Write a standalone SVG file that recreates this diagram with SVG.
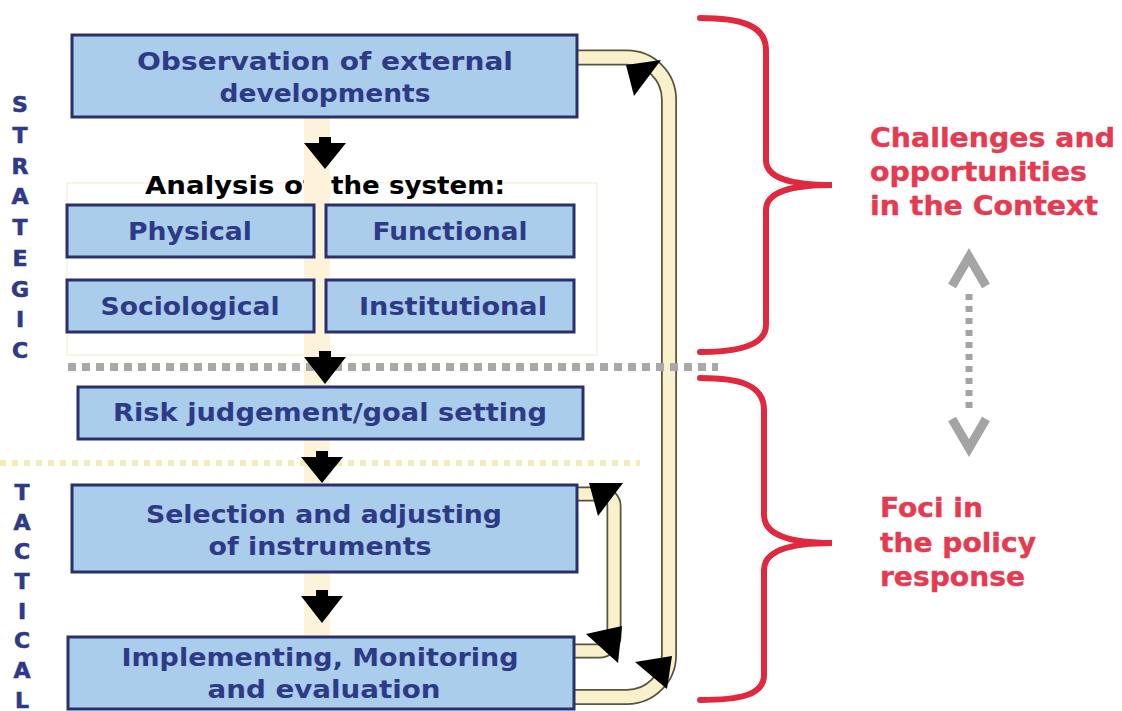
<svg xmlns="http://www.w3.org/2000/svg" width="1122" height="711" viewBox="0 0 1122 711">
<defs>
<style>
.box{fill:#a9cdea;stroke:#2b2f6e;stroke-width:3}
.bt{font-family:"DejaVu Sans",Verdana,sans-serif;font-weight:bold;font-size:24px;fill:#2e3a87;text-anchor:middle}
.side{font-family:"DejaVu Sans",Verdana,sans-serif;font-weight:bold;font-size:22px;fill:#2e3a87;stroke:#2e3a87;stroke-width:0.6;text-anchor:middle}
.red{font-family:"DejaVu Sans",Verdana,sans-serif;font-weight:bold;font-size:27px;fill:#e63a50;stroke:#e63a50;stroke-width:0.4}
.an{font-family:"DejaVu Sans",Verdana,sans-serif;font-weight:bold;font-size:24px;fill:#000}
.brace{fill:none;stroke:#e0283e;stroke-width:6;stroke-linecap:round}
.lo{fill:none;stroke:#55553f}
.li{fill:none;stroke:#fbf0cc}
.ah{fill:#000}
</style>
</defs>
<rect width="1122" height="711" fill="#fff"/>
<g id="background">
<rect x="67" y="183" width="530" height="172" fill="none" stroke="#f6f1e2" stroke-width="1.5"/>
<text class="an" x="145" y="194" textLength="170" lengthAdjust="spacingAndGlyphs">Analysis of</text>
<text class="an" x="331" y="194" textLength="174" lengthAdjust="spacingAndGlyphs">the system:</text>
<rect x="304" y="117" width="26" height="520" fill="#fcf3da"/>
</g>
<g id="side-labels">
<text class="side" x="20" y="112">S</text>
<text class="side" x="20" y="143">T</text>
<text class="side" x="20" y="174">R</text>
<text class="side" x="20" y="204">A</text>
<text class="side" x="20" y="235">T</text>
<text class="side" x="20" y="266">E</text>
<text class="side" x="20" y="297">G</text>
<text class="side" x="20" y="327">I</text>
<text class="side" x="20" y="358">C</text>
<text class="side" x="22" y="500">T</text>
<text class="side" x="22" y="530">A</text>
<text class="side" x="22" y="559">C</text>
<text class="side" x="22" y="589">T</text>
<text class="side" x="22" y="619">I</text>
<text class="side" x="22" y="648">C</text>
<text class="side" x="22" y="678">A</text>
<text class="side" x="22" y="708">L</text>
</g>
<g id="connectors">
<path class="lo" stroke-width="16" d="M577,57.5 H627 A42,42 0 0 1 669,99.5 V655 A42,42 0 0 1 627,697 H572"/>
<path class="li" stroke-width="12.5" d="M577,57.5 H627 A42,42 0 0 1 669,99.5 V655 A42,42 0 0 1 627,697 H572"/>
<path class="lo" stroke-width="15" d="M575,494 H602 A12,12 0 0 1 614,506 V636 A15,15 0 0 1 599,651 H572"/>
<path class="li" stroke-width="11.5" d="M575,494 H602 A12,12 0 0 1 614,506 V636 A15,15 0 0 1 599,651 H572"/>
<line x1="68" y1="367" x2="718" y2="367" stroke="#a8a8a8" stroke-width="8" stroke-dasharray="8 6"/>
<line x1="0" y1="463" x2="640" y2="463" stroke="#f3ecb4" stroke-width="6" stroke-dasharray="6 6"/>
<polygon class="ah" points="626,65 661,60 634,96"/>
<polygon class="ah" points="589,483 623,483 598,516"/>
<polygon class="ah" points="586,634 622,626 618,663"/>
<polygon class="ah" points="635,662 672,656 667,689"/>
<path class="ah" d="M319,137 H331 V143 H346 L325,169 L304,143 H319 Z"/>
<path class="ah" d="M319,351 H331 V357 H346 L325,384 L304,357 H319 Z"/>
<path class="ah" d="M316,451 H328 V457 H343 L322,483 L301,457 H316 Z"/>
<path class="ah" d="M316,590 H328 V596 H343 L322,623 L301,596 H316 Z"/>
<path d="M952,286 L969,257 L986,286" fill="none" stroke="#a4a4a4" stroke-width="9"/>
<line x1="969" y1="294" x2="969" y2="414" stroke="#a4a4a4" stroke-width="7" stroke-dasharray="6 6"/>
<path d="M952,419 L969,448 L986,419" fill="none" stroke="#a4a4a4" stroke-width="9"/>
</g>
<g id="observation">
<rect class="box" x="72" y="35" width="505" height="82"/>
<text class="bt" x="325" y="70" textLength="376" lengthAdjust="spacingAndGlyphs">Observation  of  external</text>
<text class="bt" x="325" y="102" textLength="211" lengthAdjust="spacingAndGlyphs">developments</text>
</g>
<g id="physical">
<rect class="box" x="67" y="205" width="247" height="52"/>
<text class="bt" x="190" y="240" textLength="124" lengthAdjust="spacingAndGlyphs">Physical</text>
</g>
<g id="functional">
<rect class="box" x="326" y="205" width="248" height="52"/>
<text class="bt" x="450" y="240" textLength="155" lengthAdjust="spacingAndGlyphs">Functional</text>
</g>
<g id="sociological">
<rect class="box" x="67" y="280" width="247" height="52"/>
<text class="bt" x="190" y="315" textLength="179" lengthAdjust="spacingAndGlyphs">Sociological</text>
</g>
<g id="institutional">
<rect class="box" x="326" y="280" width="248" height="52"/>
<text class="bt" x="453" y="315" textLength="188" lengthAdjust="spacingAndGlyphs">Institutional</text>
</g>
<g id="risk">
<rect class="box" x="78" y="387" width="505" height="52"/>
<text class="bt" x="330" y="421" textLength="434" lengthAdjust="spacingAndGlyphs">Risk judgement/goal setting</text>
</g>
<g id="selection">
<rect class="box" x="72" y="485" width="505" height="87"/>
<text class="bt" x="324" y="523" textLength="356" lengthAdjust="spacingAndGlyphs">Selection and adjusting</text>
<text class="bt" x="320" y="555" textLength="223" lengthAdjust="spacingAndGlyphs">of instruments</text>
</g>
<g id="implementing">
<rect class="box" x="68" y="637" width="506" height="72"/>
<text class="bt" x="320" y="666" textLength="397" lengthAdjust="spacingAndGlyphs">Implementing, Monitoring</text>
<text class="bt" x="324" y="698" textLength="233" lengthAdjust="spacingAndGlyphs">and  evaluation</text>
</g>
<g id="context">
<path class="brace" d="M700,18 C740,18 766,25 766,50 V160 C766,178 790,185 832,185 C790,185 766,192 766,210 V325 C766,345 740,352 700,352"/>
<text class="red" x="870" y="147" textLength="245" lengthAdjust="spacingAndGlyphs">Challenges and</text>
<text class="red" x="870" y="181" textLength="217" lengthAdjust="spacingAndGlyphs">opportunities</text>
<text class="red" x="870" y="215" textLength="228" lengthAdjust="spacingAndGlyphs">in the Context</text>
</g>
<g id="policy">
<path class="brace" d="M700,378 C740,378 764,385 764,410 V515 C764,535 790,543 832,543 C790,543 764,551 764,570 V675 C764,695 740,700 700,700"/>
<text class="red" x="880" y="517" textLength="103" lengthAdjust="spacingAndGlyphs">Foci in</text>
<text class="red" x="880" y="552" textLength="156" lengthAdjust="spacingAndGlyphs">the policy</text>
<text class="red" x="880" y="586" textLength="145" lengthAdjust="spacingAndGlyphs">response</text>
</g>
</svg>
